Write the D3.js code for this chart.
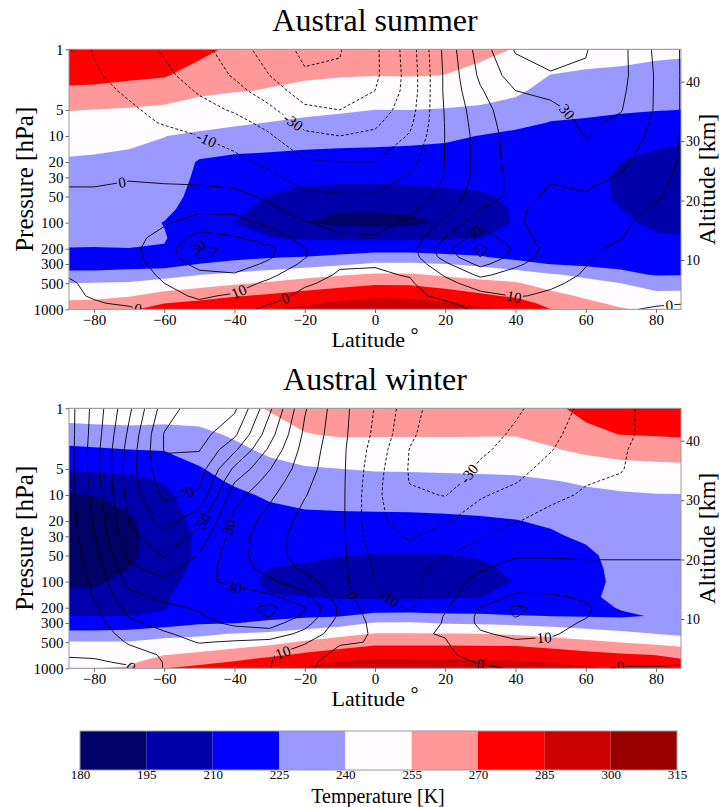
<!DOCTYPE html>
<html>
<head>
<meta charset="utf-8">
<script src="https://cdn.jsdelivr.net/npm/d3@7"></script>
<style>
  body { margin: 0; background: #fff; }
  text { font-family: "Liberation Serif", "DejaVu Serif", serif; fill: #000; }
</style>
</head>
<body>
<svg width="721" height="807"></svg>
<script>
// grid
const lats = [-87.1, -80, -70, -60, -50, -40, -30, -20, -10, 0, 10, 20, 30, 40, 50, 60, 70, 80, 87.1];
const levels = [1, 2, 3, 5, 7, 10, 20, 30, 50, 70, 100, 150, 200, 250, 300, 400, 500, 700, 850, 1000];

// colour bins of the temperature fill
const tempBins = [180, 195, 210, 225, 240, 255, 270, 285, 300, 315];
const binColors = ["#000066", "#0000aa", "#0000ff", "#9999ff", "#fffcff", "#ff9999", "#ff0000", "#cc0000", "#990000"];

// zonal wind contour levels (m/s)
const windLevels = d3.range(-60, 100, 10);

const latTicks = [-80, -60, -40, -20, 0, 20, 40, 60, 80];
const pTicks = [1, 5, 10, 20, 30, 50, 100, 200, 300, 500, 1000];
const altTicks = [10, 20, 30, 40];

// temperature [K], one profile per latitude (1 -> 1000 hPa)
const summerT = [
  [286.4, 274.9, 267.5, 255.5, 250.7, 245.9, 238.5, 236.1, 233.1, 231.2, 229.1, 226.7, 224.8, 219, 219, 229.1, 240, 251.3, 257.4, 262],
  [283, 273.9, 267.3, 254.7, 249.9, 244.8, 238, 235.7, 232.9, 231, 229, 226.7, 224.7, 219, 219, 229, 240.6, 251.5, 258, 264],
  [280, 272.4, 265.5, 253.7, 248.4, 242.8, 237.3, 235.1, 232.4, 230.6, 228.7, 226.5, 224.9, 218.5, 219, 231.2, 241.6, 254.2, 261.7, 268],
  [276, 271, 263.4, 252, 246.3, 240.2, 236.5, 234, 230.5, 227.5, 224.7, 225.6, 224.5, 217, 218, 235.4, 245.5, 260.4, 269.8, 276],
  [274, 264.4, 257.6, 249.5, 244.3, 237.7, 223.5, 222, 220.5, 220, 219.5, 219, 218.5, 219.5, 225.3, 239.8, 249.3, 264.7, 273, 279],
  [267, 259.8, 255.7, 247.8, 242.3, 234.4, 221, 218.5, 215, 212, 209.9, 212, 217, 221.5, 229, 243, 252.9, 269, 276.7, 283],
  [262, 257.4, 254.4, 245.6, 239.7, 232.1, 220.7, 215.7, 209.5, 207.5, 207, 210.3, 216, 224, 232.2, 246.2, 257, 272.4, 279.2, 284.9],
  [260, 256.4, 252.5, 243.5, 237.5, 230.9, 219.8, 214.1, 205, 200, 195.5, 208.3, 217.9, 225.4, 234.9, 250, 261.3, 275.9, 283.2, 288],
  [258, 255.6, 251, 241.7, 236, 230, 219.3, 213.4, 204, 196.5, 191, 207.4, 218.8, 228, 237.6, 253.7, 264.4, 280, 287.3, 292],
  [257, 255.2, 249.3, 239.9, 234.8, 229.4, 219.2, 213.4, 204, 196.5, 190.5, 207.4, 219.9, 231.1, 241.8, 256.9, 267.8, 282.9, 290.2, 296],
  [257, 255.4, 249.6, 240, 234.5, 228.7, 218.8, 213.5, 204.5, 197.1, 192, 207.4, 219.8, 231.1, 241.8, 256.9, 267.8, 282.1, 289.4, 295],
  [257.5, 254.9, 248.1, 239.3, 233.5, 227.4, 218.4, 213.5, 207, 200, 196.5, 208.5, 218.8, 228.6, 240.1, 252.9, 263.4, 278.4, 286.3, 291],
  [258, 251.8, 245.9, 238, 231.5, 224.6, 217.9, 213.8, 208.5, 205, 204, 209.8, 218.8, 226.2, 237.1, 250, 259.2, 272.9, 281.2, 288],
  [254.5, 247, 242.6, 234.9, 228.6, 221.9, 216, 214, 212, 211.3, 211, 212.5, 216, 220.5, 230.9, 247.1, 256.4, 267.7, 276.5, 284.8],
  [250, 239.6, 234.8, 228.6, 224.6, 221, 217, 215.5, 214.5, 214, 214, 215, 217.5, 221, 224.5, 241.7, 249, 259.6, 265.4, 270.3],
  [247, 237.8, 233.2, 227.4, 223.7, 221, 216.5, 214.5, 213.5, 213.5, 214, 215.5, 218, 220.5, 222, 236.8, 244.4, 252.9, 257.8, 262],
  [245, 237.3, 232.4, 226.2, 222.2, 218, 209.9, 208, 208.5, 210.1, 212.5, 215.5, 218, 220, 222, 227.8, 240, 247.9, 252.4, 256],
  [242.5, 236.8, 231.8, 225.5, 220.1, 214.3, 206, 204, 203.5, 204.5, 207.5, 211.5, 215.5, 219, 222, 224.2, 233.3, 244.3, 248.4, 252],
  [242, 236.4, 231.4, 224.9, 219, 212.6, 205, 203.5, 203, 204, 206.5, 211, 215, 218.5, 221.5, 224.4, 234.2, 243.9, 247.2, 250]
];

const winterT = [
  [250, 232.3, 222.4, 211.6, 203.2, 194, 187, 185.5, 186, 188, 192, 198.9, 205.2, 210.1, 216.6, 228.9, 241, 246.3, 249.4, 252],
  [251, 233, 223.5, 212.1, 203.9, 195.3, 187.5, 186, 186.5, 188.5, 192.3, 199, 205.2, 210.1, 216.8, 228.5, 241, 247.8, 251.7, 255],
  [252, 233.7, 224.9, 212.7, 206.1, 199.8, 193, 192, 192.5, 194.8, 199.5, 203.5, 207, 210.1, 217, 230, 240.9, 248.3, 252.5, 256],
  [250, 233.6, 225.6, 216.6, 210.7, 207, 203, 201.5, 202, 204, 207, 209.2, 209.5, 211, 218.5, 234.8, 244.5, 254.8, 263, 269.8],
  [248, 236.5, 230.9, 224, 221, 218, 214, 212.5, 212.5, 213, 213.5, 214, 215, 217, 223.5, 237.2, 245.8, 257.6, 266.4, 274],
  [251, 241.9, 236.8, 230.6, 226.6, 222.5, 218.5, 217, 215.5, 214.5, 214, 214.5, 216, 219, 224.6, 240.6, 248.2, 261.7, 271.4, 281],
  [256, 249.1, 242.8, 235.7, 231.3, 226.7, 220.4, 217, 212.8, 209.9, 208, 210.5, 217.4, 222.1, 227.3, 242.5, 251.3, 267.2, 276.9, 284.9],
  [260, 254.5, 247.8, 238.6, 234.2, 229.6, 221.4, 217.2, 211.9, 208.5, 206, 210.2, 216.9, 223.2, 231.1, 246.4, 256.9, 272.5, 281, 287],
  [261, 256.1, 250, 239.9, 235.4, 230.5, 221.5, 216.6, 210.5, 205, 198.5, 208, 216.9, 224.3, 234.4, 250.9, 261.8, 276.9, 285.4, 291],
  [261, 256, 250.3, 241, 236.1, 231.2, 221.6, 216.1, 209.2, 204, 197.5, 207.8, 218.5, 229.2, 241, 255.6, 266.3, 281.1, 288.1, 293],
  [260, 255.9, 250.5, 241.2, 236.3, 231.4, 221.7, 216.2, 209.2, 204, 197.5, 207.8, 218.5, 229.9, 241.4, 255.6, 266.3, 280.8, 288, 293],
  [260, 255.9, 250.5, 241.6, 236.7, 231.8, 222.3, 216.6, 209.6, 205, 200.5, 208.3, 218.6, 227.9, 239, 255.6, 266.3, 280.6, 287.7, 293],
  [259, 255.8, 250.6, 241.9, 237.1, 232.4, 223.2, 217.8, 211, 207.5, 206, 209.9, 219.2, 227.4, 238.1, 255, 266.2, 280.2, 287, 292],
  [258, 255.6, 251.2, 242.5, 237.6, 233.1, 224.5, 220, 215, 212.5, 210.5, 212.5, 218, 225.8, 236.7, 253.2, 265.7, 279.7, 286.5, 291],
  [267, 258.9, 253.8, 244.7, 239.2, 235.1, 227.1, 223, 219, 217, 215.5, 215.5, 218, 224.9, 234.8, 250, 262.4, 277.5, 284.6, 289],
  [274, 266.5, 257.7, 247.8, 241.5, 237.5, 231.3, 227.6, 221.5, 221, 221, 223.5, 222.5, 224.2, 232, 247.1, 258.4, 274.6, 281.4, 287],
  [277, 270.3, 260.8, 250, 243.8, 238.5, 235, 233, 231, 229, 228, 227, 225.5, 224, 228.7, 243.8, 254.6, 272, 278, 283],
  [279, 271.1, 262.1, 250.8, 244.8, 239.5, 236, 234, 232, 230.5, 229.5, 228, 227, 225.5, 228, 239.9, 251.2, 269.8, 275.3, 280],
  [280, 271.8, 262.9, 251.2, 245.4, 239.6, 236.5, 235, 233, 231.5, 230.5, 229.5, 228.5, 228, 229.5, 237.5, 249, 266.2, 273.4, 278]
];

// zonal wind [m/s], one profile per latitude (1 -> 1000 hPa)
const summerU = [
  [-6, -5, -5, -4, -4, -3, -2, -1, 1, 1.5, 2, 2, 2, 2, 1, 0.3, -0.5, -1, -2, -2],
  [-10.5, -9, -8, -7, -6, -5, -3, -1, 1, 2, 3, 4, 4, 4, 4, 3, 1, 0.5, -0.5, -1],
  [-16, -13, -11, -9, -8, -6, -3, -0.5, 2, 3, 5, 7, 8, 8, 8, 7, 6, 4, 1, -1],
  [-21, -18, -15, -12, -10.5, -8, -4, -1, 2, 5, 9, 13, 14, 13, 12, 11, 10, 8, 4, 2],
  [-27, -24, -21, -17, -13, -10, -5, -2, 3, 8, 14, 24, 32, 31, 24, 17, 14, 11, 9, 6],
  [-35, -31, -27, -21, -17, -13, -8, -4, 3, 8, 13, 21, 28, 28, 25, 19, 14, 9, 6, 3],
  [-45, -40, -35, -28, -23, -19, -12, -8, -2, 2, 8, 16, 22, 21, 18, 12, 8, 3, 0.5, -2],
  [-52, -49, -45, -38, -33, -28, -19, -14, -8, -4, 0.5, 6, 10.5, 10.5, 8, 4, 1, -2, -4, -5],
  [-50.5, -49, -47, -40, -35, -30, -20, -15, -9, -5, -2, 1, 3, 3, 1, -1, -2, -4, -5, -5],
  [-42, -42, -40, -36, -32, -28, -20, -15, -9, -5, -2, 0.5, 2, 2, 0.5, -1, -2, -3, -4, -4],
  [-25, -26, -26, -24, -22, -19, -13, -9, -5, -2, 1, 4, 6, 5, 3, 0.5, -1, -2, -3, -3],
  [3, 2, 2, 1, 0.5, 0.3, 0.3, 0.5, 3, 7, 12, 20, 27, 24, 18, 11, 7, 2, -1, -2],
  [25, 22, 19, 16, 15, 14, 14, 14, 16, 20, 27, 36, 43, 40, 33, 22, 15, 7, 3, 1],
  [41, 35, 30, 27, 26, 25, 24, 23, 22, 21, 21, 24, 28, 26, 22, 16, 14, 10.5, 7, 4],
  [45, 39, 33, 27, 25, 23, 21, 20.5, 19, 18, 17, 16, 16, 15, 14, 12, 11, 9, 6, 3],
  [40.5, 39, 37, 34, 32, 30.5, 26, 23, 19, 16, 13, 11.5, 11, 10.5, 10.2, 9.5, 8.5, 6, 3, 1],
  [33, 33, 32, 30.5, 28, 26, 22, 19, 16, 13, 11, 10.2, 9, 8.5, 8, 7, 6, 4, 2, 0.5],
  [18, 19, 19, 19, 18, 17, 15, 13, 11, 9, 8, 7, 6, 5.5, 5, 4, 3, 2, 0.5, -0.5],
  [9.5, 9.5, 9.5, 9.5, 9.5, 9.5, 9, 8, 7, 6, 5, 4.5, 4, 3.5, 3, 2.5, 2, 1, 0.2, -1]
];

const winterU = [
  [6, 6, 6, 6, 6, 6, 5, 5, 4, 4, 3, 3, 2, 2, 2, 1, 1, 0.5, -1, -2],
  [23, 24, 25, 25, 24, 23, 21, 19, 16, 14, 12, 10.5, 8, 7, 6, 4, 3, 1, -1, -2],
  [48, 52, 54, 55, 55, 54, 50.5, 47, 42, 38, 33, 27, 23, 20.5, 18, 14, 11, 6, 1, -1],
  [75, 80.5, 80.5, 78, 75, 72, 64, 58, 50.5, 44, 38, 32, 28, 25, 23, 19, 16, 11, 10.5, 10.5],
  [86, 84, 80.5, 75, 72, 68, 53, 46, 39, 35, 32, 31, 31, 29, 27, 23, 20.5, 14, 12, 12],
  [82, 72, 62, 48, 40.5, 34, 27, 25, 24, 25, 28, 34, 36, 35, 32, 25, 19, 12, 11, 11],
  [52, 44, 38, 30.5, 26, 22, 16, 14, 14, 16, 22, 32, 43, 40.5, 34, 26, 17, 11, 10.5, 10.2],
  [21, 18, 16, 14, 12, 10.5, 7, 6, 6, 8, 14, 24, 30.5, 28, 24, 17, 11, 5, 3, 2],
  [4, 3.5, 3, 3, 3, 3, 3, 3, 3, 3, 3.5, 5, 8, 8, 6, 4, 1, -3, -5, -5],
  [-10.5, -12, -14, -16, -17, -18, -18, -16, -13, -11, -10.5, -8, -6, -4, -2, -1, -0.5, -2, -4, -4],
  [-26, -28, -30.5, -31, -30.5, -28, -24, -21, -17, -14, -13, -14, -11, -7, -4, -1, -0.5, -1, -3, -3],
  [-37, -39, -39, -37, -35, -30.5, -21, -16, -10.5, -6, -3, -2, -1, 0.5, 0.5, 0.5, -0.5, -1, -2, -2],
  [-38, -35, -32, -28, -25, -21, -15, -11, -3, -0.5, 2, 4, 10.5, 12, 12, 9, 6, 2, 0.5, -1],
  [-32, -28, -26, -23, -20.5, -17, -10.5, -3, -0.5, 2, 4, 12, 22, 20.5, 17, 12, 9, 5, 2, 0.5],
  [-24, -22, -20.5, -17, -15, -12, -7, -3, -0.5, 2, 6, 11, 16, 15, 13, 11, 8.5, 5, 2, 1],
  [-18, -16, -14, -12, -10.5, -9, -5, -2, -0.5, 1, 4, 9, 11, 10.5, 9, 7, 6, 4, 2, 1],
  [-12, -12, -11, -10.5, -9, -7, -4, -2, -0.5, 1, 3, 4, 5, 5, 5, 4, 4, 3, 1, -0.5],
  [-7, -7, -6, -5, -4, -3, -2, -1, -0.5, 1, 2, 2, 3, 3, 3, 3, 2, 2, 1, -0.5],
  [-3, -3, -3, -3, -2, -2, -1, -1, -0.5, 1, 1, 2, 2, 2, 2, 2, 2, 1, 0.5, -0.5]
];

// contour label spots: [level, latitude, pressure]
const summerLabels = [[-10, -48, 11], [-30, -21, 5.1], [0, -72, 34.5], [30, -50, 200], [10, -38.5, 660],
  [0, -25.7, 715], [0, -67, 830], [30, 54.8, 5.2], [30, 26.8, 110], [10, 39.6, 715], [0, 83.7, 850]];
const winterLabels = [[70, -53.7, 9.6], [50, -48.9, 20], [30, -42.3, 23], [30, -40.4, 136], [10, -26.6, 590],
  [0, -68, 840], [0, -7.7, 150], [-30, 23.5, 4.5], [-10, 4.1, 155], [10, 48.2, 490], [0, 30.2, 840], [0, 70, 950]];

const svg = d3.select("svg");
const plotLeft = 69, plotRight = 681, plotH = 260;
const nx = lats.length, ny = levels.length;
const logLev = levels.map(Math.log10);
const minus = d => (d < 0 ? "\u2212" + Math.abs(d) : String(d));

const xScale = d3.scaleLinear().domain([lats[0], lats[nx - 1]]).range([plotLeft, plotRight]);

function gridValues(cols) {
  const v = new Array(nx * ny);
  for (let j = 0; j < ny; j++) for (let i = 0; i < nx; i++) v[j * nx + i] = cols[i][j];
  return v;
}

function interpIndex(arr, f) {
  const c = Math.max(0, Math.min(arr.length - 1, f));
  const i0 = Math.min(arr.length - 2, Math.floor(c));
  return arr[i0] + (c - i0) * (arr[i0 + 1] - arr[i0]);
}

const panels = [
  { title: "Austral summer", top: 49.3, T: summerT, U: summerU, labels: summerLabels },
  { title: "Austral winter", top: 408.3, T: winterT, U: winterU, labels: winterLabels }
];

panels.forEach((pan, pi) => {
  const top = pan.top;
  const yScale = d3.scaleLog().domain([1, 1000]).range([top, top + plotH]);
  const altScale = d3.scaleLinear().domain([0, 45.45]).range([top + 270.1, top]);
  const proj = ([cx, cy]) => [xScale(interpIndex(lats, cx - 0.5)), yScale(Math.pow(10, interpIndex(logLev, cy - 0.5)))];

  svg.append("clipPath").attr("id", "clip" + pi)
    .append("rect").attr("x", plotLeft).attr("y", top).attr("width", plotRight - plotLeft).attr("height", plotH);

  const g = svg.append("g").attr("clip-path", `url(#clip${pi})`);

  // filled temperature
  const tContours = d3.contours().size([nx, ny]).thresholds(tempBins.slice(0, -1));
  tContours(gridValues(pan.T)).forEach((geo, k) => {
    const d = geo.coordinates.map(poly => poly.map(ring =>
      "M" + ring.map(p => proj(p).map(v => v.toFixed(2)).join(",")).join("L") + "Z").join("")).join("");
    g.append("path").attr("d", d).attr("fill", binColors[k]).attr("fill-rule", "evenodd");
  });

  // wind contour lines
  const onB = p => p[0] <= 0.5 + 1e-9 || p[0] >= nx - 0.5 - 1e-9 || p[1] <= 0.5 + 1e-9 || p[1] >= ny - 0.5 - 1e-9;
  const runsByLevel = new Map();
  const uContours = d3.contours().size([nx, ny]).thresholds(windLevels);
  uContours(gridValues(pan.U)).forEach(geo => {
    const runs = [];
    geo.coordinates.forEach(poly => poly.forEach(ring => {
      const ringRuns = [];
      let cur = null;
      for (let k = 1; k < ring.length; k++) {
        const a = ring[k - 1], b = ring[k];
        if (onB(a) && onB(b)) { if (cur) { ringRuns.push(cur); cur = null; } continue; }
        if (!cur) cur = [a];
        cur.push(b);
      }
      if (cur) ringRuns.push(cur);
      // join the run that wraps round the ring start
      if (ringRuns.length > 1 && !onB(ring[0])) {
        const last = ringRuns.pop();
        ringRuns[0] = last.concat(ringRuns[0].slice(1));
      }
      ringRuns.forEach(r => runs.push(r.map(proj)));
    }));
    runsByLevel.set(geo.value, runs);
  });

  const maskId = "mask" + pi;
  const mask = svg.append("mask").attr("id", maskId).attr("maskUnits", "userSpaceOnUse")
    .attr("x", 0).attr("y", 0).attr("width", 721).attr("height", 807);
  mask.append("rect").attr("width", 721).attr("height", 807).attr("fill", "white");

  const lines = g.append("g").attr("mask", `url(#${maskId})`);
  runsByLevel.forEach((runs, lv) => {
    runs.forEach(r => {
      lines.append("path")
        .attr("d", "M" + r.map(p => p.map(v => v.toFixed(2)).join(",")).join("L"))
        .attr("fill", "none").attr("stroke", "#000").attr("stroke-width", 0.9)
        .attr("stroke-dasharray", lv < 0 ? "3,2" : null);
    });
  });

  // inline labels
  pan.labels.forEach(([lv, lat, p]) => {
    const runs = runsByLevel.get(lv) || [];
    const tx = xScale(lat), ty = yScale(p);
    let best = null;
    runs.forEach(run => {
      for (let k = 1; k < run.length; k++) {
        const a = run[k - 1], b = run[k];
        const dx = b[0] - a[0], dy = b[1] - a[1];
        const L2 = dx * dx + dy * dy || 1e-9;
        const t = Math.max(0, Math.min(1, ((tx - a[0]) * dx + (ty - a[1]) * dy) / L2));
        const px = a[0] + t * dx, py = a[1] + t * dy;
        const d2 = (px - tx) ** 2 + (py - ty) ** 2;
        if (!best || d2 < best.d2) best = { d2, px, py, ang: Math.atan2(dy, dx) * 180 / Math.PI };
      }
    });
    if (!best || best.d2 > 35 * 35) return;
    let ang = best.ang;
    if (ang > 90) ang -= 180;
    if (ang < -90) ang += 180;
    const txt = String(lv);
    const w = txt.length * 7.2 + 3;
    const tr = `translate(${best.px.toFixed(1)},${best.py.toFixed(1)}) rotate(${ang.toFixed(1)})`;
    mask.append("rect").attr("x", -w / 2).attr("y", -6).attr("width", w).attr("height", 12)
      .attr("transform", tr).attr("fill", "black");
    g.append("text").attr("transform", tr).attr("text-anchor", "middle").attr("dy", "0.35em")
      .attr("font-size", 15).text(txt);
  });

  // frame
  svg.append("rect").attr("x", plotLeft).attr("y", top).attr("width", plotRight - plotLeft).attr("height", plotH)
    .attr("fill", "none").attr("stroke", "#999").attr("stroke-width", 1);

  // axes
  const ax = svg.append("g").attr("transform", `translate(0,${top + plotH})`)
    .call(d3.axisBottom(xScale).tickValues(latTicks).tickFormat(minus).tickSize(3.5).tickSizeOuter(0).tickPadding(2));
  const ay = svg.append("g").attr("transform", `translate(${plotLeft},0)`)
    .call(d3.axisLeft(yScale).tickValues(pTicks).tickFormat(d3.format("d")).tickSize(3.5).tickSizeOuter(0).tickPadding(2));
  const az = svg.append("g").attr("transform", `translate(${plotRight},0)`)
    .call(d3.axisRight(altScale).tickValues(altTicks).tickSize(3.5).tickSizeOuter(0).tickPadding(1.5));
  [ax, ay, az].forEach(a => {
    a.select(".domain").remove();
    a.selectAll(".tick line").attr("stroke", "#666");
    a.selectAll(".tick text").attr("font-family", "Liberation Serif").attr("font-size", 15).attr("fill", "#000");
  });
  az.selectAll(".tick text").attr("font-size", 14);

  // titles and axis labels
  svg.append("text").attr("x", 375).attr("y", top - 18).attr("text-anchor", "middle")
    .attr("font-size", 32).text(pan.title);
  const xl = svg.append("text").attr("x", 375).attr("y", top + plotH + 38).attr("text-anchor", "middle")
    .attr("font-size", 22).text("Latitude ");
  xl.append("tspan").attr("font-size", 20).attr("dy", -5).text("\u00b0");
  svg.append("text").attr("transform", `translate(33,${top + plotH / 2}) rotate(-90)`)
    .attr("text-anchor", "middle").attr("font-size", 25).text("Pressure [hPa]");
  svg.append("text").attr("transform", `translate(715,${top + plotH / 2}) rotate(-90)`)
    .attr("text-anchor", "middle").attr("font-size", 24).text("Altitude [km]");
});

// colour bar
const cbScale = d3.scaleLinear().domain([180, 315]).range([80, 677]);
const cbTop = 731, cbH = 39;
const cb = svg.append("g");
binColors.forEach((c, i) => {
  cb.append("rect").attr("x", cbScale(tempBins[i])).attr("y", cbTop)
    .attr("width", cbScale(tempBins[i + 1]) - cbScale(tempBins[i])).attr("height", cbH).attr("fill", c);
});
cb.append("rect").attr("x", 80).attr("y", cbTop).attr("width", 597).attr("height", cbH)
  .attr("fill", "none").attr("stroke", "#999").attr("stroke-width", 1);
const cax = svg.append("g").attr("transform", `translate(0,${cbTop + cbH})`)
  .call(d3.axisBottom(cbScale).tickValues(tempBins).tickSize(0).tickPadding(0));
cax.select(".domain").remove();
cax.selectAll(".tick text").attr("font-family", "Liberation Serif").attr("font-size", 13).attr("fill", "#000");
svg.append("text").attr("x", 378).attr("y", 802.5).attr("text-anchor", "middle")
  .attr("font-size", 20).text("Temperature [K]");
</script>
</body>
</html>
